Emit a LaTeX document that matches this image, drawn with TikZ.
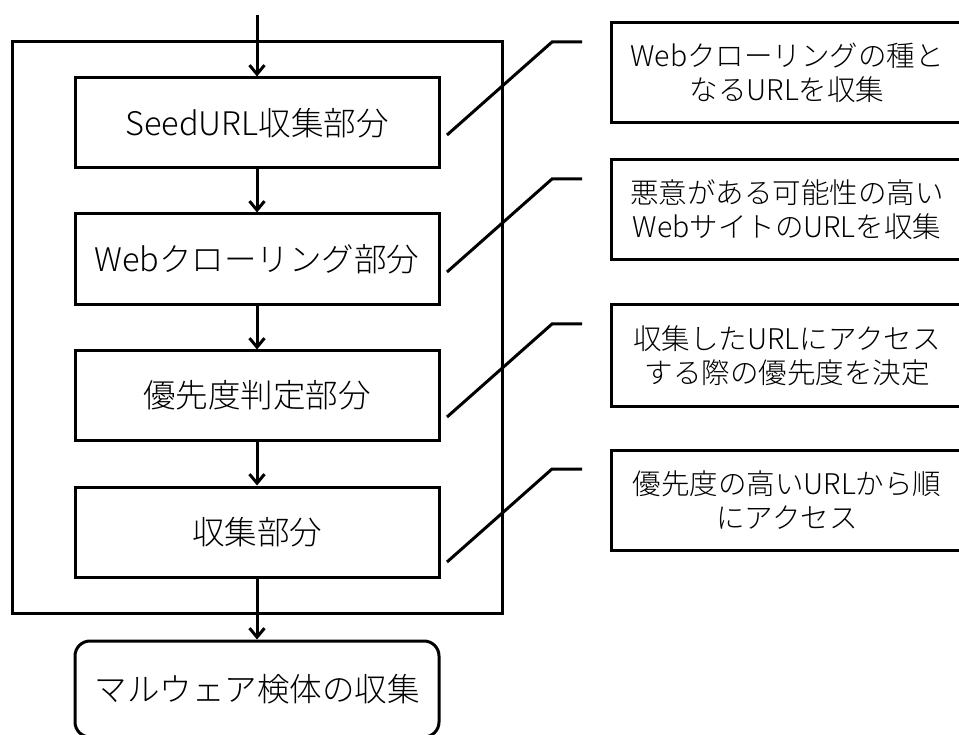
\documentclass[tikz,border=0pt]{standalone}
\usepackage{fontspec}
\setmainfont{Noto Sans CJK JP}[UprightFont=* Light]
\usetikzlibrary{arrows.meta}

\tikzset{
  stagebox/.style={draw, line width=3pt, minimum width=364pt, inner sep=0pt,
    align=center, font=\fontsize{32.5}{39}\selectfont},
  notebox/.style={draw, line width=3pt, minimum width=352pt, minimum height=100pt,
    inner sep=0pt, align=center, font=\fontsize{28.5}{34}\selectfont},
  flow/.style={line width=3pt, -{Straight Barb[length=9pt,width=15pt,line width=3pt]}},
  callout/.style={line width=3pt, line join=miter}
}

\begin{document}
\begin{tikzpicture}[x=1pt, y=-1pt]
  \useasboundingbox (0,0) rectangle (959,735);

  % enclosing frame of the crawler
  \node[draw, line width=3pt, minimum width=490pt, minimum height=571pt, inner sep=0pt]
    (frame) at (257,327.5) {};

  % processing stages
  \node[stagebox, minimum height=90pt] (seed)  at (257,123)   {SeedURL収集部分};
  \node[stagebox, minimum height=91pt] (crawl) at (257,259.5) {Webクローリング部分};
  \node[stagebox, minimum height=89pt] (prio)  at (257,395.5) {優先度判定部分};
  \node[stagebox, minimum height=90pt] (coll)  at (257,532)   {収集部分};
  \node[stagebox, minimum height=96pt, rounded corners=15pt] (malw) at (257,689)
    {マルウェア検体の収集};

  % explanations
  \node[notebox] (n1) at (787,73)    {Webクローリングの種と\\なるURLを収集};
  \node[notebox] (n2) at (787,210)   {悪意がある可能性の高い\\WebサイトのURLを収集};
  \node[notebox, minimum height=101pt] (n3) at (787,355.5) {収集したURLにアクセス\\する際の優先度を決定};
  \node[notebox] (n4) at (787,500)   {優先度の高いURLから順\\にアクセス};

  % flow
  \coordinate (in) at (257,15);
  \draw[flow] (in) -- (seed.north);
  \draw[flow] (seed.south) -- (crawl.north);
  \draw[flow] (crawl.south) -- (prio.north);
  \draw[flow] (prio.south) -- (coll.north);
  \draw[flow] (coll.south) -- (malw.north);

  % callout leaders
  \coordinate (a1) at (447,135); \coordinate (b1) at (552,42);  \coordinate (e1) at (582,42);
  \coordinate (a2) at (447,272); \coordinate (b2) at (552,179); \coordinate (e2) at (582,179);
  \coordinate (a3) at (447,417); \coordinate (b3) at (552,324); \coordinate (e3) at (582,324);
  \coordinate (a4) at (447,562); \coordinate (b4) at (552,469); \coordinate (e4) at (582,469);
  \draw[callout] (a1) -- (b1) -- (e1);
  \draw[callout] (a2) -- (b2) -- (e2);
  \draw[callout] (a3) -- (b3) -- (e3);
  \draw[callout] (a4) -- (b4) -- (e4);
\end{tikzpicture}
\end{document}
